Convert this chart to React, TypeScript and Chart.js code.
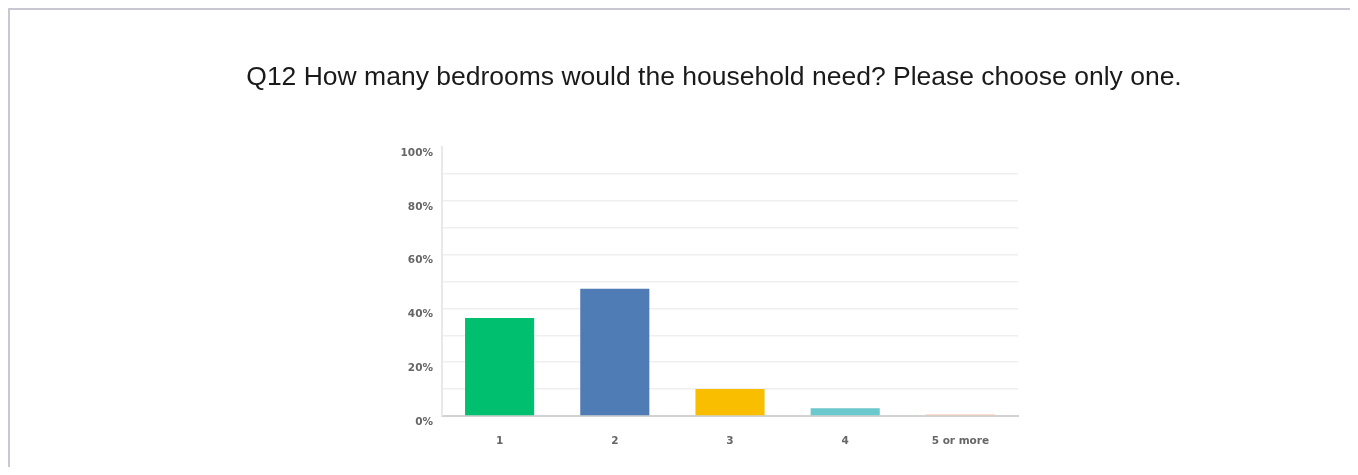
import React, { useEffect, useRef } from "react";
import { Chart, registerables } from "chart.js";

Chart.register(...registerables);

const TITLE = "Q12 How many bedrooms would the household need? Please choose only one.";
const categories = ["1", "2", "3", "4", "5 or more"];
const values = [36.4, 47.3, 10.0, 2.9, 0.6];
const barColors = ["#00bf6f", "#507cb6", "#f9be00", "#6bc8cd", "#f8c2a6"];
const yTickLabels = ["0%", "20%", "40%", "60%", "80%", "100%"];

const tickFont = { family: "'DejaVu Sans', sans-serif", size: 10.5, weight: "bold" as const };

export default function App() {
  const ref = useRef<HTMLCanvasElement | null>(null);

  useEffect(() => {
    document.body.style.overflow = "hidden";
    const canvas = ref.current;
    if (!canvas) return;
    const chart = new Chart(canvas, {
      type: "bar",
      data: {
        labels: categories,
        datasets: [
          {
            data: values,
            backgroundColor: barColors,
            borderWidth: 0,
            barPercentage: 0.6,
            categoryPercentage: 1,
          },
        ],
      },
      options: {
        animation: false,
        responsive: false,
        events: [],
        layout: { padding: { left: 200, right: 132, top: 0, bottom: 11 } },
        plugins: {
          legend: { display: false },
          tooltip: { enabled: false },
          title: {
            display: true,
            text: TITLE,
            color: "#1a1a1a",
            font: { family: "'Liberation Sans', Arial, sans-serif", size: 26.5, weight: "normal" },
            padding: { top: 52, bottom: 53.2 },
          },
        },
        scales: {
          x: {
            grid: { display: false, drawTicks: false },
            border: { display: true, color: "#d2d2d2", width: 2 },
            ticks: {
              color: "#666",
              padding: 19,
              font: tickFont,
            },
            afterFit: (s: any) => {
              s.height = 40;
            },
          },
          y: {
            min: 0,
            max: 100,
            grid: {
              drawTicks: false,
              lineWidth: 1.5,
              color: (ctx: any) =>
                ctx.tick && (ctx.tick.value === 100 || ctx.tick.value === 0) ? "rgba(0,0,0,0)" : "#efefef",
            },
            border: { display: true, color: "#e8e8e8", width: 2 },
            ticks: {
              stepSize: 10,
              color: "#666",
              padding: 9,
              labelOffset: 6,
              font: tickFont,
              callback: (v: any) => {
                const n = Number(v);
                return n % 20 === 0 ? yTickLabels[n / 20] : "";
              },
            },
            afterFit: (s: any) => {
              s.width = 232;
            },
          },
          spacer: {
            type: "linear",
            position: "right",
            display: true,
            grid: { display: false, drawTicks: false },
            border: { display: false },
            ticks: { display: false },
            afterFit: (s: any) => {
              s.width = 200;
            },
          },
        },
      },
    });
    return () => chart.destroy();
  }, []);

  return (
    <div
      style={{
        width: 1370,
        height: 459,
        boxSizing: "border-box",
        borderTop: "2px solid #c9c7d1",
        borderLeft: "2px solid #c9c7d1",
        background: "#fff",
      }}
    >
      <canvas ref={ref} width={1340} height={457} style={{ display: "block" }} />
    </div>
  );
}
